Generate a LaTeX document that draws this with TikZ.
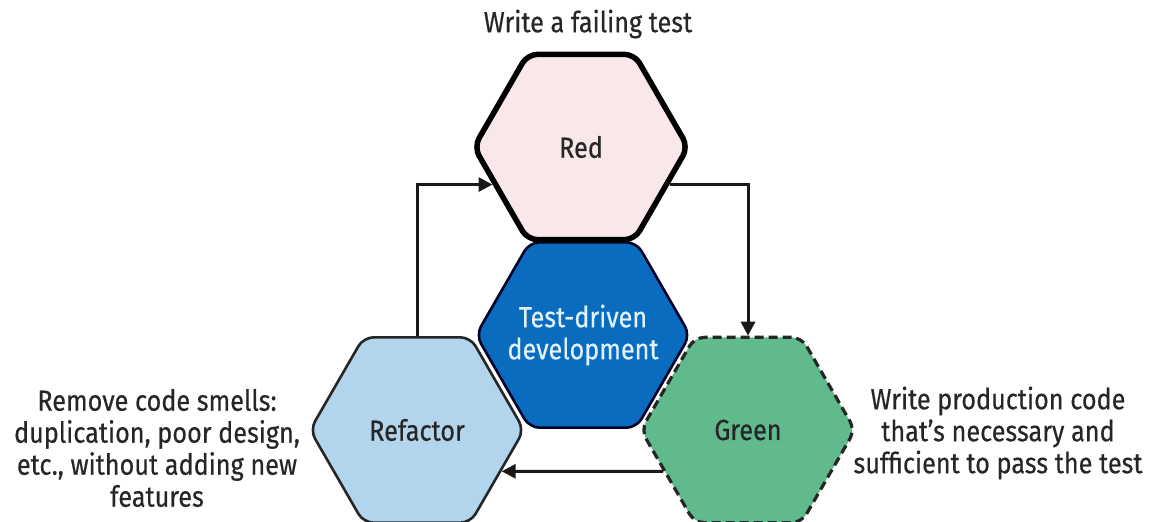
\documentclass[tikz,border=0pt]{standalone}
\usepackage{fontspec}
\setmainfont{Fira Sans}[FakeStretch=0.87, FakeBold=0.4]
\usetikzlibrary{shapes.geometric,arrows.meta}

\definecolor{redfill}{RGB}{249,232,233}
\definecolor{tddblue}{RGB}{10,108,190}
\definecolor{tddtext}{RGB}{222,242,255}
\definecolor{refblue}{RGB}{178,212,236}
\definecolor{greenfill}{RGB}{96,186,140}
\definecolor{ink}{RGB}{38,38,38}

\begin{document}
\begin{tikzpicture}[
  x=1pt, y=-1pt,
  font=\fontsize{29}{32}\selectfont, text=ink,
  hexa/.style={regular polygon, regular polygon sides=6, minimum size=214pt, inner sep=0pt,
    rounded corners=10pt, draw=ink, line width=2.6pt, align=center},
  note/.style={align=center, inner sep=0pt},
  edge/.style={draw=black!90, line width=3pt, -{Triangle[length=14pt,width=14pt]}}
]
\useasboundingbox (0,0) rectangle (1149,522);

% the four hexagons, back to front
\node[hexa, fill=refblue] (refactor) at (417,430) {Refactor};
\node[hexa, fill=greenfill, dash pattern=on 9pt off 5pt, line width=3.2pt] (green) at (748,430) {Green};
% negative inner sep keeps the two lines from widening the hexagon
\node[hexa, fill=tddblue, draw=black!85!blue, text=tddtext, inner sep=-30pt] (tdd) at (583,335) {Test-driven\\development};
\node[hexa, fill=redfill, draw=black, line width=5.5pt] (red) at (581,147) {Red};

% captions
\node[note] (redtxt) at (588,24) {Write a failing test};
\node[note] (reftxt) at (157,448) {Remove code smells:\\duplication, poor design,\\etc., without adding new\\features};
\node[note] (greentxt) at (998,433) {Write production code\\that's necessary and\\sufficient to pass the test};

% the cycle
\draw[edge] (refactor.north) |- (red.203);
\draw[edge] (red.-23) -| (green.north);
\draw[edge] (green.206) -- (refactor.-26);
\end{tikzpicture}
\end{document}
